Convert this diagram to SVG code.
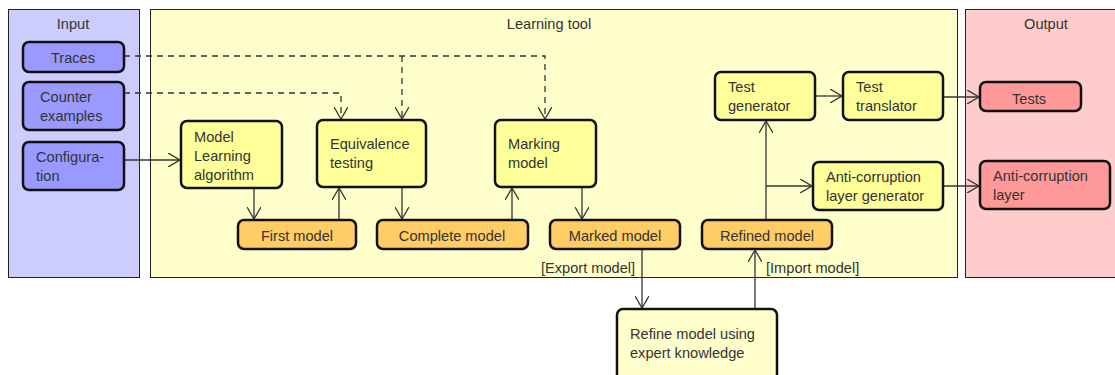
<svg xmlns="http://www.w3.org/2000/svg" width="1115" height="375" viewBox="0 0 1115 375">
<style>
text{font-family:"Liberation Sans",Arial,sans-serif;font-size:14.6px;fill:#333}
.c{text-anchor:middle}
.panel{stroke:#222;stroke-width:1}
.n{stroke:#111;stroke-width:2.5}
.in{fill:#9999ff}.y{fill:#ffff99}.o{fill:#ffcc66}.r{fill:#ff9999}.w{fill:#ffffcc}
.e{fill:none;stroke:#333;stroke-width:1.3}
.d{stroke-dasharray:6 5}
</style>
<defs>
<marker id="a" viewBox="0 0 12 14" refX="12" refY="7" markerWidth="12" markerHeight="14" markerUnits="userSpaceOnUse" orient="auto">
<path d="M0,0 L12,7 L0,14" fill="none" stroke="#333" stroke-width="1.3"/>
</marker>
</defs>
<g id="panels">
<rect x="8.5" y="9.5" width="131" height="268" fill="#ccccff" class="panel"/>
<rect x="150.5" y="9.5" width="807" height="268" fill="#ffffcc" class="panel"/>
<rect x="965.5" y="9.5" width="155" height="268" fill="#ffcccc" class="panel"/>
<text x="73" y="29" class="c">Input</text>
<text x="549" y="29" class="c">Learning tool</text>
<text x="1046" y="29" class="c">Output</text>
</g>
<g id="connectors">
<path class="e d" d="M124,56 H545 V119" marker-end="url(#a)"/>
<path class="e d" d="M402,56 V119" marker-end="url(#a)"/>
<path class="e d" d="M124,93 H341 V119" marker-end="url(#a)"/>
<path class="e" d="M124,160 H180" marker-end="url(#a)"/>
<path class="e" d="M254,188 V219" marker-end="url(#a)"/>
<path class="e" d="M339,220 V188" marker-end="url(#a)"/>
<path class="e" d="M402,187 V219" marker-end="url(#a)"/>
<path class="e" d="M512,220 V188" marker-end="url(#a)"/>
<path class="e" d="M582,187 V219" marker-end="url(#a)"/>
<path class="e" d="M642,249 V308" marker-end="url(#a)"/>
<path class="e" d="M755,309 V250" marker-end="url(#a)"/>
<path class="e" d="M766,220 V121" marker-end="url(#a)"/>
<path class="e" d="M766,186 H812" marker-end="url(#a)"/>
<path class="e" d="M815,96 H842" marker-end="url(#a)"/>
<path class="e" d="M943,97 H979" marker-end="url(#a)"/>
<path class="e" d="M943,186 H979" marker-end="url(#a)"/>
<text x="541" y="273">[Export model]</text>
<text x="766" y="273">[Import model]</text>
</g>
<g id="traces"><rect x="23" y="42" width="101" height="30" rx="6" class="n in"/><text x="73" y="63" class="c">Traces</text></g>
<g id="counter"><rect x="23" y="82" width="101" height="48" rx="6" class="n in"/><text x="40" y="102">Counter</text><text x="40" y="121">examples</text></g>
<g id="config"><rect x="23" y="142" width="101" height="48" rx="6" class="n in"/><text x="36" y="162">Configura-</text><text x="36" y="181">tion</text></g>
<g id="mla"><rect x="181" y="121" width="101" height="67" rx="6" class="n y"/><text x="194" y="142">Model</text><text x="194" y="161">Learning</text><text x="194" y="180">algorithm</text></g>
<g id="eqt"><rect x="317" y="120" width="109" height="67" rx="6" class="n y"/><text x="330" y="149">Equivalence</text><text x="330" y="168">testing</text></g>
<g id="marking"><rect x="495" y="120" width="101" height="67" rx="6" class="n y"/><text x="508" y="149">Marking</text><text x="508" y="168">model</text></g>
<g id="first"><rect x="238" y="220" width="118" height="29" rx="6" class="n o"/><text x="297" y="241" class="c">First model</text></g>
<g id="complete"><rect x="377" y="220" width="151" height="29" rx="6" class="n o"/><text x="452" y="241" class="c">Complete model</text></g>
<g id="marked"><rect x="550" y="220" width="130" height="29" rx="6" class="n o"/><text x="615" y="241" class="c">Marked model</text></g>
<g id="refined"><rect x="702" y="220" width="130" height="29" rx="6" class="n o"/><text x="767" y="241" class="c">Refined model</text></g>
<g id="testgen"><rect x="715" y="72" width="100" height="48" rx="6" class="n y"/><text x="728" y="92">Test</text><text x="728" y="111">generator</text></g>
<g id="testtrans"><rect x="843" y="72" width="100" height="48" rx="6" class="n y"/><text x="856" y="92">Test</text><text x="856" y="111">translator</text></g>
<g id="acgen"><rect x="813" y="162" width="130" height="48" rx="6" class="n y"/><text x="826" y="182">Anti-corruption</text><text x="826" y="201">layer generator</text></g>
<g id="tests"><rect x="980" y="82" width="101" height="29" rx="6" class="n r"/><text x="1029" y="104" class="c">Tests</text></g>
<g id="acl"><rect x="980" y="161" width="130" height="48" rx="6" class="n r"/><text x="993" y="181">Anti-corruption</text><text x="993" y="200">layer</text></g>
<g id="refine"><rect x="617" y="309" width="160" height="75" rx="6" class="n w"/><text x="630" y="339">Refine model using</text><text x="630" y="358">expert knowledge</text></g>
</svg>
